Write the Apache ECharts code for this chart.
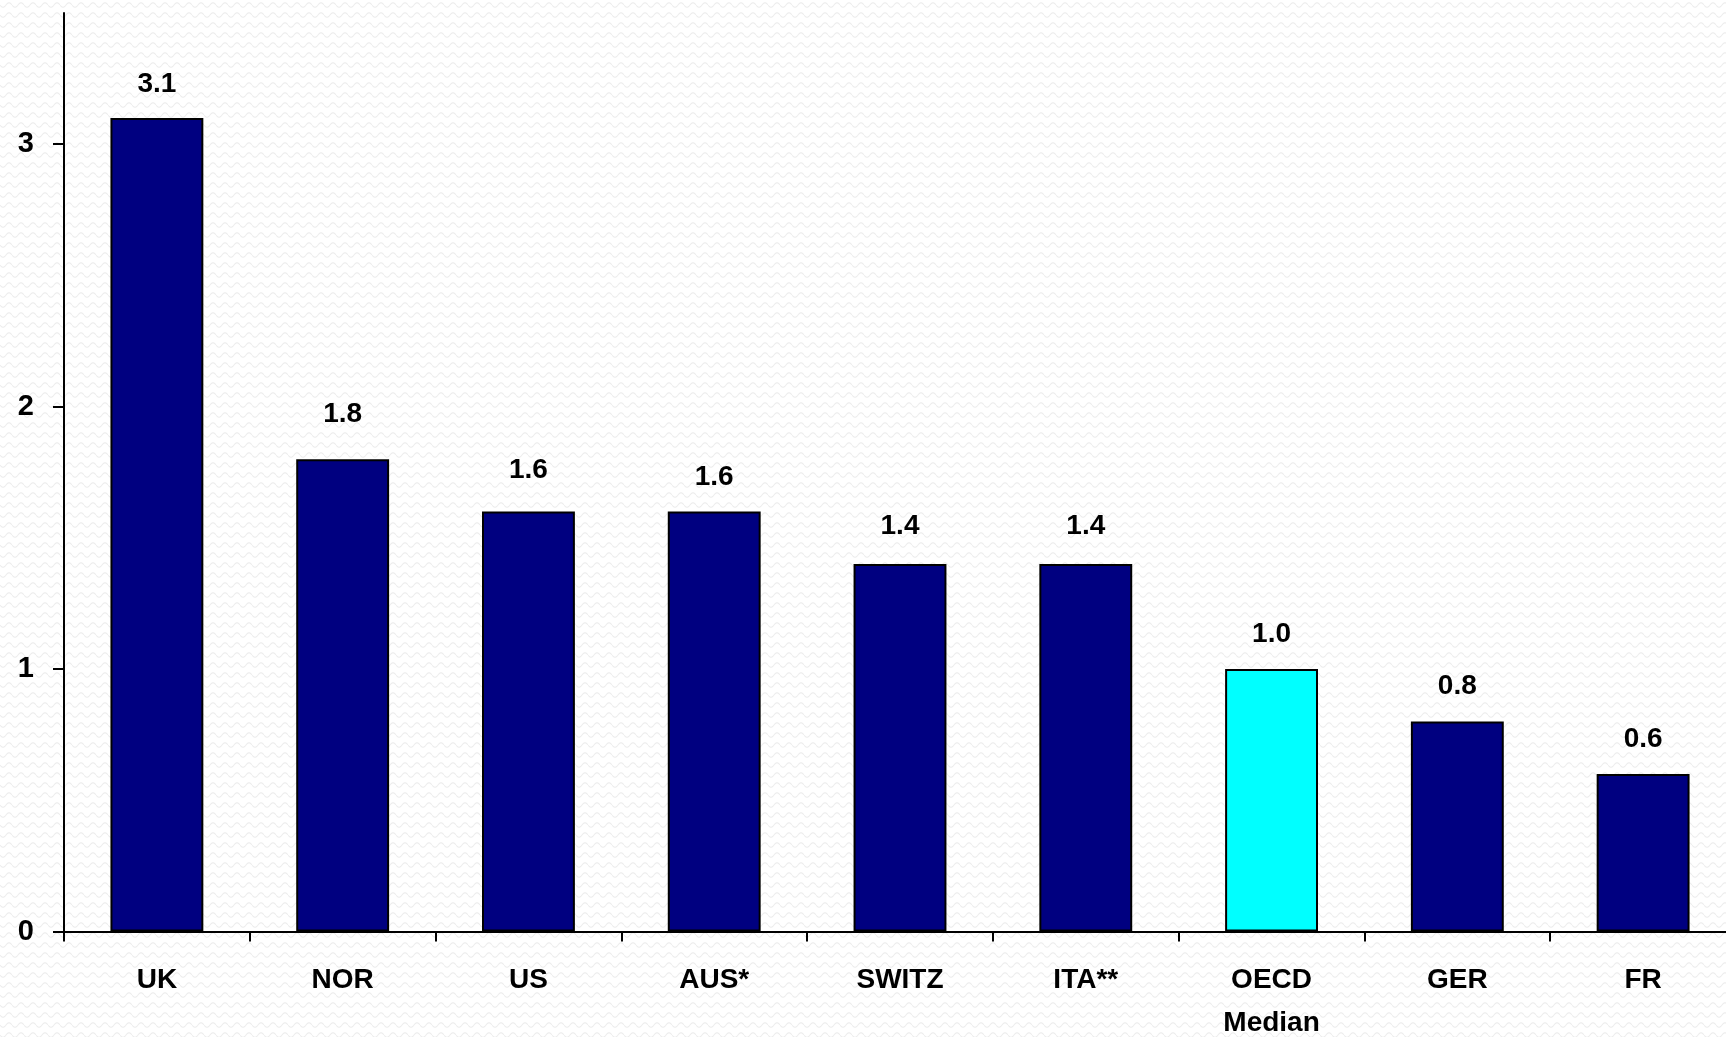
<!DOCTYPE html>
<html>
<head>
<meta charset="utf-8">
<script src="https://cdn.jsdelivr.net/npm/echarts@6/dist/echarts.min.js"></script>
<style>
html,body{margin:0;padding:0;background:#f8f8f8;}
#chart{width:1726px;height:1037px;}
</style>
</head>
<body>
<div id="chart"></div>
<script>
const categories = ['UK', 'NOR', 'US', 'AUS*', 'SWITZ', 'ITA**', 'OECD\nMedian', 'GER', 'FR'];
const values = [3.1, 1.8, 1.6, 1.6, 1.4, 1.4, 1.0, 0.8, 0.6];
const highlightCategory = 'OECD\nMedian';
const yTicks = [0, 1, 2, 3];

// style only: extra upward shift (px) of each value label, as placed in the original
const labelLift = [0, 11, 7, 0, 4, 4, 1, 1, 1];

const navy = '#000080';
const cyan = '#00FFFF';

// subtle wavy background texture
(function () {
  const c = document.createElement('canvas');
  c.width = 12; c.height = 10;
  const g = c.getContext('2d');
  g.fillStyle = '#ffffff';
  g.fillRect(0, 0, 12, 10);
  g.strokeStyle = '#ededed';
  g.lineWidth = 1.1;
  g.beginPath();
  for (let x = 0; x <= 12; x += 0.5) {
    const y = 5 + 2.2 * Math.sin(x / 12 * Math.PI * 2);
    if (x === 0) g.moveTo(x, y); else g.lineTo(x, y);
  }
  g.stroke();
  document.getElementById('chart').style.backgroundImage = 'url(' + c.toDataURL() + ')';
})();

const chart = echarts.init(document.getElementById('chart'), null, {renderer: 'canvas'});
const fontFamily = '"Liberation Sans", Arial, sans-serif';

chart.setOption({
  backgroundColor: 'transparent',
  animation: false,
  grid: {left: 64, right: -10, top: 13, bottom: 105.5, containLabel: false, outerBoundsMode: 'none'},
  xAxis: {
    type: 'category',
    data: categories,
    axisLine: {lineStyle: {color: '#000', width: 2}},
    axisTick: {show: true, length: 10, lineStyle: {color: '#000', width: 2}, alignWithLabel: false},
    axisLabel: {
      color: '#000', fontFamily: fontFamily, fontWeight: 'bold', fontSize: 28,
      lineHeight: 43, margin: 27, interval: 0
    }
  },
  yAxis: {
    type: 'value',
    min: 0, max: 3.5, interval: 1,
    splitLine: {show: false},
    axisLine: {show: true, lineStyle: {color: '#000', width: 2}},
    axisTick: {show: true, length: 11, lineStyle: {color: '#000', width: 2}, customValues: yTicks},
    axisLabel: {
      color: '#000', fontFamily: fontFamily, fontWeight: 'bold', fontSize: 29,
      margin: 30, customValues: yTicks
    }
  },
  series: [{
    type: 'bar',
    barWidth: '50%',
    data: values.map((v, i) => ({
      value: v,
      itemStyle: {color: categories[i] === highlightCategory ? cyan : navy},
      label: {offset: [0, -labelLift[i]]}
    })),
    itemStyle: {borderColor: '#000', borderWidth: 2},
    label: {
      show: true, position: 'top', distance: 20,
      color: '#000', fontFamily: fontFamily, fontWeight: 'bold', fontSize: 28,
      formatter: p => p.value.toFixed(1)
    }
  }]
});
</script>
</body>
</html>
